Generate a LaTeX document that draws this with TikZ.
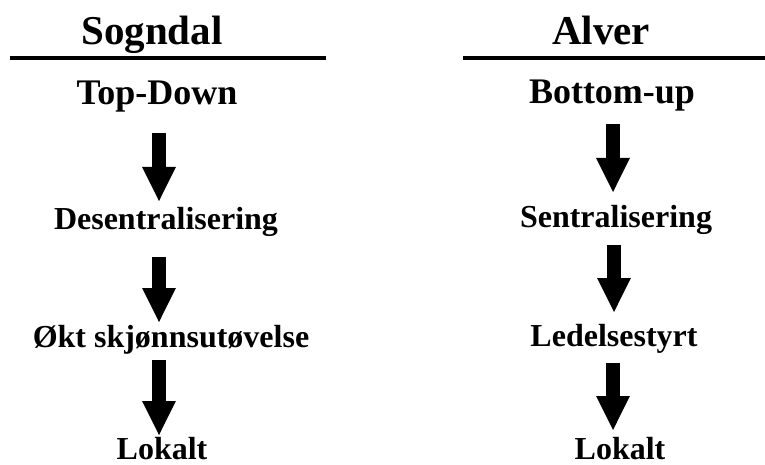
\documentclass[tikz,border=0pt]{standalone}
\usepackage{fontspec}
\setmainfont{Liberation Serif}
\usetikzlibrary{arrows.meta}
\begin{document}
\begin{tikzpicture}[x=1pt,y=-1pt,
  head/.style={anchor=base,inner sep=0pt,font=\fontsize{41}{41}\selectfont\bfseries},
  sub/.style={anchor=base,inner sep=0pt,font=\fontsize{36}{36}\selectfont\bfseries},
  item/.style={anchor=base,inner sep=0pt,font=\fontsize{32}{32}\selectfont\bfseries},
  rule/.style={line width=4.5pt},
  bigarrow/.style={line width=14pt,-{Triangle[width=31pt,length=35pt]}}]
\useasboundingbox (0,0) rectangle (765,465);
% left column
\node[head] (sogndal) at (152,45) {Sogndal};
\draw[rule] (10,58) coordinate (lrs) -- (326,58) coordinate (lre);
\node[sub] (topdown) at (157,105) {Top-Down};
\node[item] (desent) at (166,229) {Desentralisering};
\node[item] (okt) at (171,347) {Økt skjønnsutøvelse};
\node[item] (lokaltL) at (162,459) {Lokalt};
\coordinate (l1s) at (159,133); \coordinate (l1e) at (159,202);
\coordinate (l2s) at (159,257); \coordinate (l2e) at (159,323);
\coordinate (l3s) at (159,360); \coordinate (l3e) at (159,436);
\draw[bigarrow] (l1s) -- (l1e);
\draw[bigarrow] (l2s) -- (l2e);
\draw[bigarrow] (l3s) -- (l3e);
% right column
\node[head] (alver) at (601,45) {Alver};
\draw[rule] (463,58) coordinate (rrs) -- (765,58) coordinate (rre);
\node[sub] (bottomup) at (612,104) {Bottom-up};
\node[item] (sent) at (616,227) {Sentralisering};
\node[item] (ledel) at (614,346) {Ledelsestyrt};
\node[item] (lokaltR) at (620,459) {Lokalt};
\coordinate (r1s) at (613,124); \coordinate (r1e) at (613,193);
\coordinate (r2s) at (614,245); \coordinate (r2e) at (614,313);
\coordinate (r3s) at (613,363); \coordinate (r3e) at (613,431);
\draw[bigarrow] (r1s) -- (r1e);
\draw[bigarrow] (r2s) -- (r2e);
\draw[bigarrow] (r3s) -- (r3e);
\end{tikzpicture}
\end{document}
